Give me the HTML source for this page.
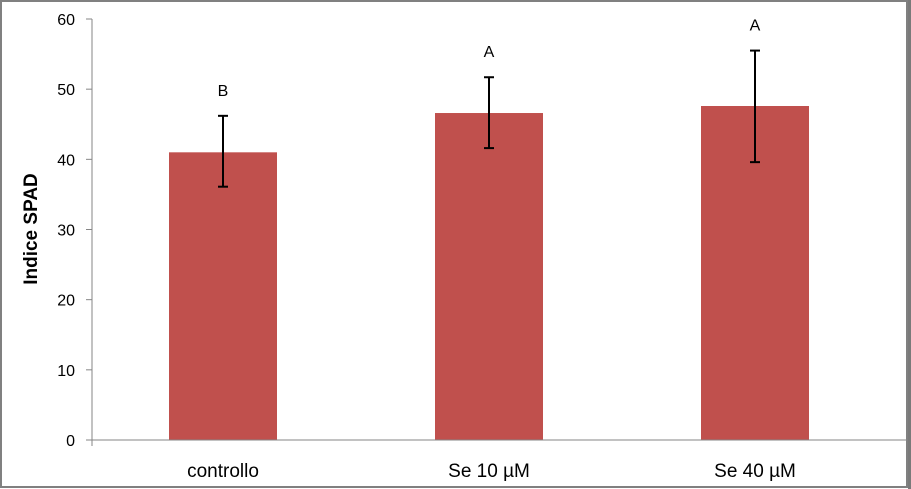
<!DOCTYPE html>
<html><head><meta charset="utf-8"><style>
html,body{margin:0;padding:0;background:#fff}
svg{display:block;font-family:"Liberation Sans",sans-serif}
</style></head><body>
<svg width="911" height="489">
<rect x="0" y="0" width="911" height="489" fill="#fff"/>
<rect x="1" y="1" width="906" height="486" fill="none" stroke="#808080" stroke-width="2"/>
<rect x="908" y="0" width="3" height="489" fill="#7a7a7a"/>
<g id="plot"></g>
</svg>
<script>
const categories=["controllo","Se 10 µM","Se 40 µM"];
const values=[41,46.6,47.6];
const errLow=[36.1,41.6,39.6];
const errHigh=[46.2,51.7,55.5];
const letters=["B","A","A"];
const yTicks=[0,10,20,30,40,50,60];
const NS="http://www.w3.org/2000/svg";
const g=document.getElementById('plot');
const x0=92,plotW=798,yBase=440,yTop=19,yMax=60;
const y=v=>yBase-(v/yMax)*(yBase-yTop);
const band=plotW/categories.length;
const cx=i=>x0+band*(i+0.5)-2;
function mk(t,a,p){const e=document.createElementNS(NS,t);for(const k in a)e.setAttribute(k,a[k]);(p||g).appendChild(e);return e;}
yTicks.forEach(t=>{
 const l=mk('line',{x1:86,x2:x0,y1:y(t),y2:y(t),stroke:'#868686'});
 
 
 const tx=mk('text',{x:75,y:y(t)+6,'text-anchor':'end','font-size':16,fill:'#000'});
 tx.textContent=t;
 
 
});
values.forEach((v,i)=>{
 const b=mk('rect',{x:cx(i)-54,y:y(v),width:108,height:yBase-y(v),fill:'#c0504d'});
 
 
 const eg=mk('g',{stroke:'#000','stroke-width':2});
 
 
 mk('line',{x1:cx(i),x2:cx(i),y1:y(errLow[i]),y2:y(errHigh[i])},eg);
 mk('line',{x1:cx(i)-5,x2:cx(i)+5,y1:y(errLow[i]),y2:y(errLow[i])},eg);
 mk('line',{x1:cx(i)-5,x2:cx(i)+5,y1:y(errHigh[i]),y2:y(errHigh[i])},eg);
 const lt=mk('text',{x:cx(i),y:y(errHigh[i])-20,'text-anchor':'middle','font-size':16,fill:'#000'});
 lt.textContent=letters[i];
 
 
 const cl=mk('text',{x:cx(i),y:477,'text-anchor':'middle','font-size':19,fill:'#000'});
 cl.textContent=categories[i];
 
 
});
const ya=mk('line',{x1:x0,x2:x0,y1:yTop,y2:446,stroke:'#868686'});


const xa=mk('line',{x1:86,x2:907,y1:yBase,y2:yBase,stroke:'#868686'});


const yt=mk('text',{x:0,y:0,transform:'translate(37,229) rotate(-90)','text-anchor':'middle','font-size':19,'font-weight':'bold',fill:'#000'});
yt.textContent='Indice  SPAD';


</script>
</body></html>
